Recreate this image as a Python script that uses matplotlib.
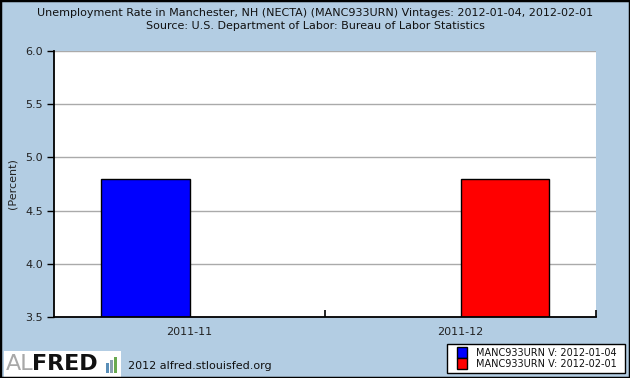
import numpy as np
import matplotlib
matplotlib.use("Agg")
import matplotlib.pyplot as plt
from matplotlib.patches import Rectangle

categories = ["2011-11", "2011-12"]
series_names = ["MANC933URN V: 2012-01-04", "MANC933URN V: 2012-02-01"]
series_values = [
    [4.8, np.nan],
    [np.nan, 4.8],
]
series_colors = ["#0000FF", "#FF0000"]
yticks = [3.5, 4.0, 4.5, 5.0, 5.5, 6.0]

title1 = "Unemployment Rate in Manchester, NH (NECTA) (MANC933URN) Vintages: 2012-01-04, 2012-02-01"
title2 = "Source: U.S. Department of Labor: Bureau of Labor Statistics"

bg = "#B3CDE3"
W, H = 630, 378
fig = plt.figure(figsize=(W / 100, H / 100), dpi=100, facecolor=bg)
ax = fig.add_axes([54 / W, 1 - 317 / H, (596 - 54) / W, (317 - 51) / H])
ax.set_facecolor("white")

x = np.arange(len(categories))
width = 0.325
offsets = [-width / 2, width / 2]
for vals, off, col in zip(series_values, offsets, series_colors):
    ax.bar(x + off, vals, width=width, bottom=0, color=col, edgecolor="black", linewidth=1, zorder=3)

ax.set_ylim(3.5, 6.0)
ax.set_xlim(-0.5, len(categories) - 0.5)
ax.set_yticks(yticks)
ax.set_yticklabels([f"{v:.1f}" for v in yticks], fontsize=8, color="#222222")
ax.yaxis.grid(True, color="#AAAAAA", linewidth=1, zorder=0)
ax.set_axisbelow(True)
ax.set_xticks(x)
ax.set_xticklabels(categories, fontsize=8, color="#222222")
ax.tick_params(axis="x", length=0, pad=7)
ax.set_xticks(np.arange(0.5, len(categories), 1.0), minor=True)
ax.tick_params(axis="x", which="minor", direction="in", length=5, width=1.2, color="black")
ax.tick_params(axis="y", direction="out", length=5, width=1, color="black", pad=3)
for s in ["top", "right"]:
    ax.spines[s].set_visible(False)
for s in ["left", "bottom"]:
    ax.spines[s].set_linewidth(1.3)
    ax.spines[s].set_color("black")
    ax.spines[s].set_zorder(5)
ax.set_ylabel("(Percent)", fontsize=8, color="#222222")
ax.yaxis.set_label_coords(-(54 - 18) / (596 - 54), 0.5)

fig.text(0.5, 1 - 13 / H, title1, ha="center", va="center", fontsize=8, color="#111111")
fig.text(0.5, 1 - 26 / H, title2, ha="center", va="center", fontsize=8, color="#111111")

# Legend (drawn manually)
fig.patches.append(Rectangle((447 / W, 1 - 373 / H), 178 / W, 29 / H, transform=fig.transFigure,
                             facecolor="white", edgecolor="black", linewidth=1))
for i, (name, col) in enumerate(zip(series_names, series_colors)):
    top = 347 + i * 11
    fig.patches.append(Rectangle((457 / W, 1 - (top + 11) / H), 10 / W, 11 / H,
                                 transform=fig.transFigure, facecolor=col,
                                 edgecolor="black", linewidth=1))
    fig.text(476 / W, 1 - (353 + i * 11) / H, name, fontsize=7, color="#111111",
             ha="left", va="center")

# ALFRED logo
fig.patches.append(Rectangle((4 / W, 1 - 377 / H), 117 / W, 26 / H, transform=fig.transFigure,
                             facecolor="white", edgecolor="none"))
fig.text(6 / W, 1 - 364 / H, "AL", fontsize=16, color="#A8A8A8", ha="left", va="center")
fig.text(32 / W, 1 - 364 / H, "FRED", fontsize=16, color="#111111", weight="bold", ha="left", va="center")
for i, (hh, cc) in enumerate([(10, "#5A8FB8"), (13, "#8AA0B0"), (16, "#6AAA50")]):
    fig.patches.append(Rectangle(((106 + i * 4) / W, 1 - 373 / H), 3 / W, hh / H,
                                 transform=fig.transFigure, facecolor=cc, edgecolor="none"))
fig.text(128 / W, 1 - 366 / H, "2012 alfred.stlouisfed.org", fontsize=8, color="#111111",
         ha="left", va="center")

# outer border
fig.patches.append(Rectangle((0, 0), 1, 1, transform=fig.transFigure, fill=False,
                             edgecolor="black", linewidth=2.5))

fig.savefig("out.png", dpi=100, facecolor=bg)
